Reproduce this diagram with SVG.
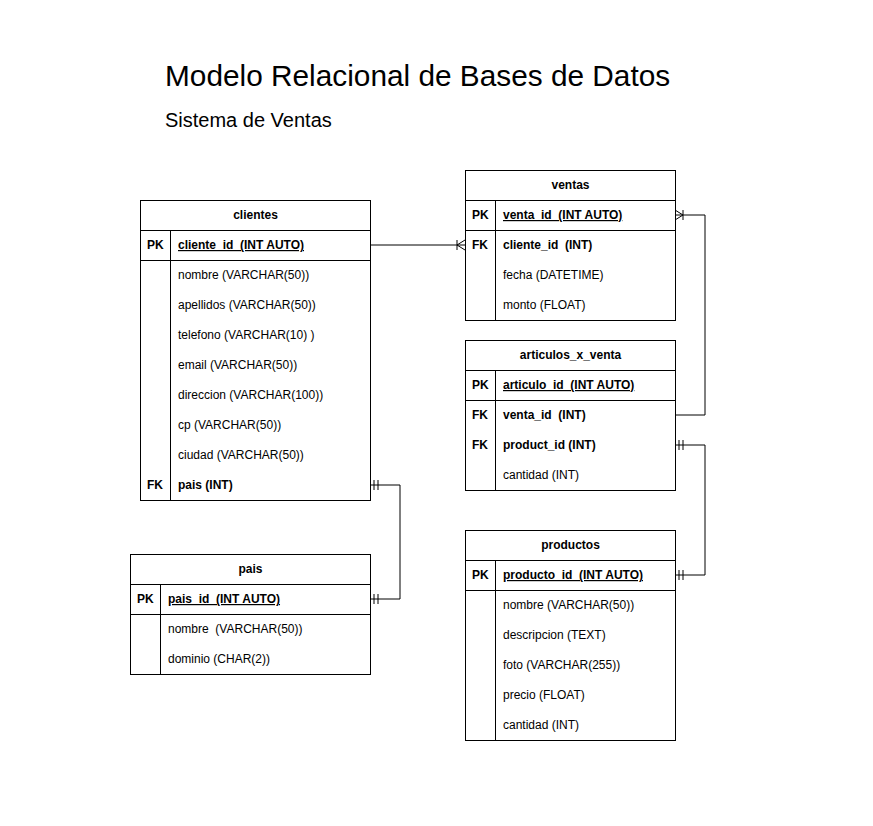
<svg xmlns="http://www.w3.org/2000/svg" width="873" height="826" viewBox="0 0 873 826" xml:space="preserve">
<style>
text{font-family:"Liberation Sans",Arial,Helvetica,sans-serif;font-size:12px;fill:#000;white-space:pre}
.box{fill:#fff;stroke:#000;stroke-width:1}
.ln{fill:none;stroke:#000;stroke-width:1}
.h{font-weight:bold;text-anchor:middle}
.b{font-weight:bold}
.u{font-weight:bold;text-decoration:underline}
.title{font-size:29.8px}
.sub{font-size:20px}
</style>
<defs>
<marker id="one" markerUnits="userSpaceOnUse" markerWidth="24" markerHeight="24" viewBox="-12 -12 24 24" refX="0" refY="0" orient="auto-start-reverse" overflow="visible">
<path d="M-4,-5V5M-8,-5V5" fill="none" stroke="#000" stroke-width="1"/>
</marker>
<marker id="many" markerUnits="userSpaceOnUse" markerWidth="24" markerHeight="24" viewBox="-12 -12 24 24" refX="0" refY="0" orient="auto-start-reverse" overflow="visible">
<path d="M0,-5L-8,0L0,5M-8,-5V5" fill="none" stroke="#000" stroke-width="1"/>
</marker>
</defs>
<rect width="873" height="826" fill="#fff"/>
<g id="titles">
<text x="165" y="86" class="title">Modelo Relacional de Bases de Datos</text>
<text x="165" y="127" class="sub">Sistema de Ventas</text>
</g>
<g id="connectors">
<path class="ln" d="M370,245H465" marker-end="url(#many)"/>
<path class="ln" d="M675,415H705V215H675" marker-end="url(#many)"/>
<path class="ln" d="M370,485H400V599H370" marker-start="url(#one)" marker-end="url(#one)"/>
<path class="ln" d="M675,445H705V575H675" marker-start="url(#one)" marker-end="url(#one)"/>
</g>
<g id="clientes">
<rect class="box" x="140.5" y="200.5" width="230" height="300"/>
<path class="ln" d="M140.5,230.5H370.5M140.5,260.5H370.5M170.5,230.5V500.5"/>
<text x="255.5" y="219" class="h">clientes</text>
<text x="147" y="249" class="b">PK</text>
<text x="178" y="249" class="u">cliente_id  (INT AUTO)</text>
<text x="178" y="279">nombre (VARCHAR(50))</text>
<text x="178" y="309">apellidos (VARCHAR(50))</text>
<text x="178" y="339">telefono (VARCHAR(10) )</text>
<text x="178" y="369">email (VARCHAR(50))</text>
<text x="178" y="399">direccion (VARCHAR(100))</text>
<text x="178" y="429">cp (VARCHAR(50))</text>
<text x="178" y="459">ciudad (VARCHAR(50))</text>
<text x="147" y="489" class="b">FK</text>
<text x="178" y="489" class="b">pais (INT)</text>
</g>
<g id="pais">
<rect class="box" x="130.5" y="554.5" width="240" height="120"/>
<path class="ln" d="M130.5,584.5H370.5M130.5,614.5H370.5M160.5,584.5V674.5"/>
<text x="250.5" y="573" class="h">pais</text>
<text x="137" y="603" class="b">PK</text>
<text x="168" y="603" class="u">pais_id  (INT AUTO)</text>
<text x="168" y="633">nombre  (VARCHAR(50))</text>
<text x="168" y="663">dominio (CHAR(2))</text>
</g>
<g id="ventas">
<rect class="box" x="465.5" y="170.5" width="210" height="150"/>
<path class="ln" d="M465.5,200.5H675.5M465.5,230.5H675.5M495.5,200.5V320.5"/>
<text x="570.5" y="189" class="h">ventas</text>
<text x="472" y="219" class="b">PK</text>
<text x="503" y="219" class="u">venta_id  (INT AUTO)</text>
<text x="472" y="249" class="b">FK</text>
<text x="503" y="249" class="b">cliente_id  (INT)</text>
<text x="503" y="279">fecha (DATETIME)</text>
<text x="503" y="309">monto (FLOAT)</text>
</g>
<g id="articulos_x_venta">
<rect class="box" x="465.5" y="340.5" width="210" height="150"/>
<path class="ln" d="M465.5,370.5H675.5M465.5,400.5H675.5M495.5,370.5V490.5"/>
<text x="570.5" y="359" class="h">articulos_x_venta</text>
<text x="472" y="389" class="b">PK</text>
<text x="503" y="389" class="u">articulo_id  (INT AUTO)</text>
<text x="472" y="419" class="b">FK</text>
<text x="503" y="419" class="b">venta_id  (INT)</text>
<text x="472" y="449" class="b">FK</text>
<text x="503" y="449" class="b">product_id (INT)</text>
<text x="503" y="479">cantidad (INT)</text>
</g>
<g id="productos">
<rect class="box" x="465.5" y="530.5" width="210" height="210"/>
<path class="ln" d="M465.5,560.5H675.5M465.5,590.5H675.5M495.5,560.5V740.5"/>
<text x="570.5" y="549" class="h">productos</text>
<text x="472" y="579" class="b">PK</text>
<text x="503" y="579" class="u">producto_id  (INT AUTO)</text>
<text x="503" y="609">nombre (VARCHAR(50))</text>
<text x="503" y="639">descripcion (TEXT)</text>
<text x="503" y="669">foto (VARCHAR(255))</text>
<text x="503" y="699">precio (FLOAT)</text>
<text x="503" y="729">cantidad (INT)</text>
</g>
</svg>
